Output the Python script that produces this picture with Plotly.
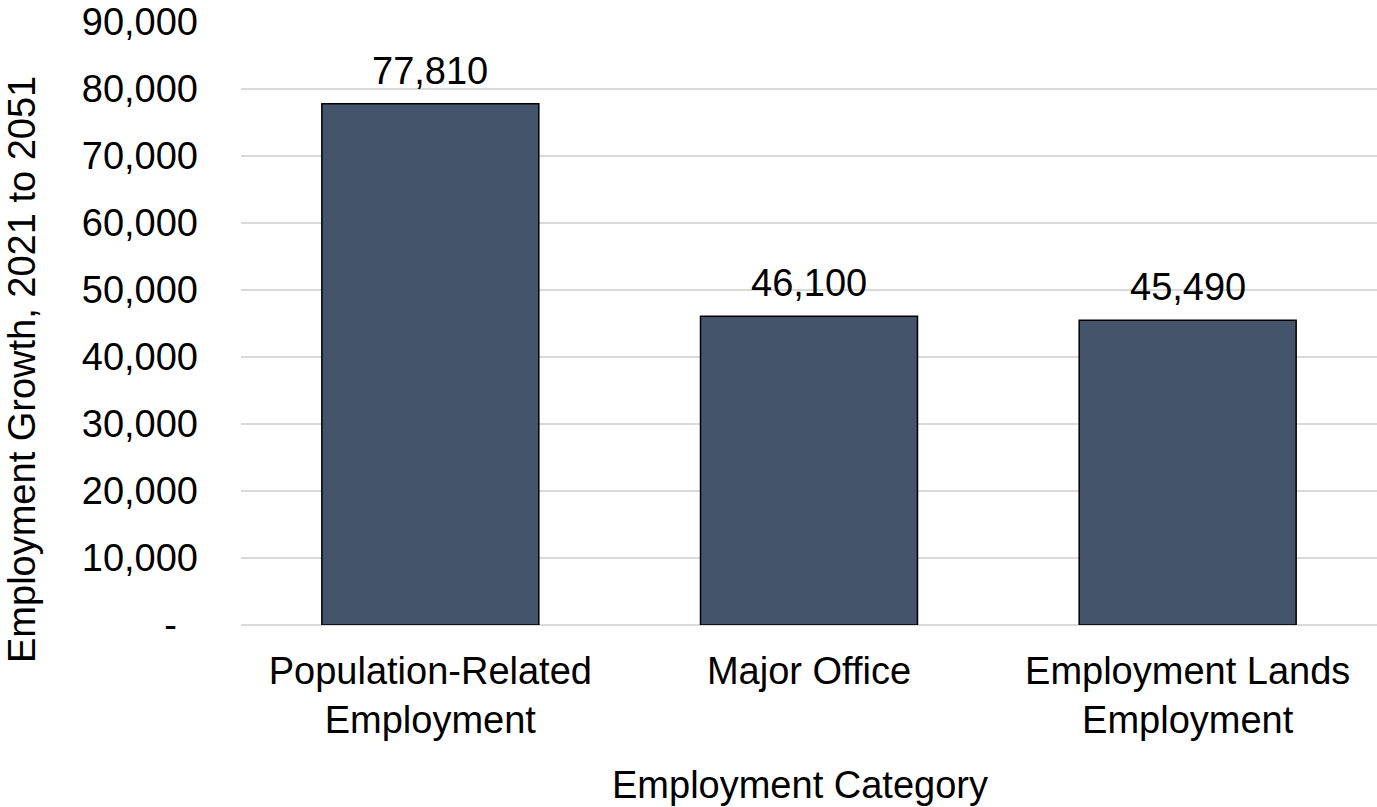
import plotly.graph_objects as go

categories = ["Population-Related<br>Employment", "Major Office", "Employment Lands<br>Employment"]
values = [77810, 46100, 45490]
tick_vals = [0, 10000, 20000, 30000, 40000, 50000, 60000, 70000, 80000, 90000]
tick_text = ["-\u00a0\u00a0", "10,000", "20,000", "30,000", "40,000", "50,000", "60,000", "70,000", "80,000", "90,000"]
x_title = "Employment Category"
y_title = "Employment Growth, 2021 to 2051"

FONT = "Liberation Sans, Arial, sans-serif"
FS = 38

fig = go.Figure()
fig.add_trace(go.Bar(
    x=categories, y=values,
    marker=dict(color="#44546A", line=dict(color="#000000", width=1.5)),
    width=0.573,
))
for c, v in zip(categories, values):
    fig.add_annotation(x=c, y=v, text=f"{v:,}", showarrow=False, yanchor="bottom",
                       yshift=10, font=dict(family=FONT, size=FS, color="#000000"))

# axis titles placed as annotations
fig.add_annotation(text=x_title, xref="paper", yref="paper", x=0.492, y=-0.265,
                   xanchor="center", yanchor="middle", showarrow=False,
                   font=dict(family=FONT, size=FS, color="#000000"))
fig.add_annotation(text=y_title, xref="paper", yref="paper", x=-0.1928, y=0.4245,
                   xanchor="center", yanchor="middle", textangle=-90, showarrow=False,
                   font=dict(family=FONT, size=FS, color="#000000"))

fig.update_layout(
    width=1377, height=807,
    margin=dict(l=241, r=0, t=22, b=182),
    paper_bgcolor="white", plot_bgcolor="white",
    font=dict(family=FONT, size=FS, color="#000000"),
    showlegend=False,
)
fig.update_xaxes(
    tickfont=dict(size=FS), showline=False, ticks="", ticklabelstandoff=20,
)
fig.update_yaxes(
    range=[0, 90000], tickvals=tick_vals, ticktext=tick_text,
    showgrid=True, gridcolor="#D9D9D9", gridwidth=2,
    zeroline=True, zerolinecolor="#D9D9D9", zerolinewidth=2,
    tickfont=dict(size=FS), ticks="", ticklabelstandoff=42,
)
fig.write_html("out.html")
